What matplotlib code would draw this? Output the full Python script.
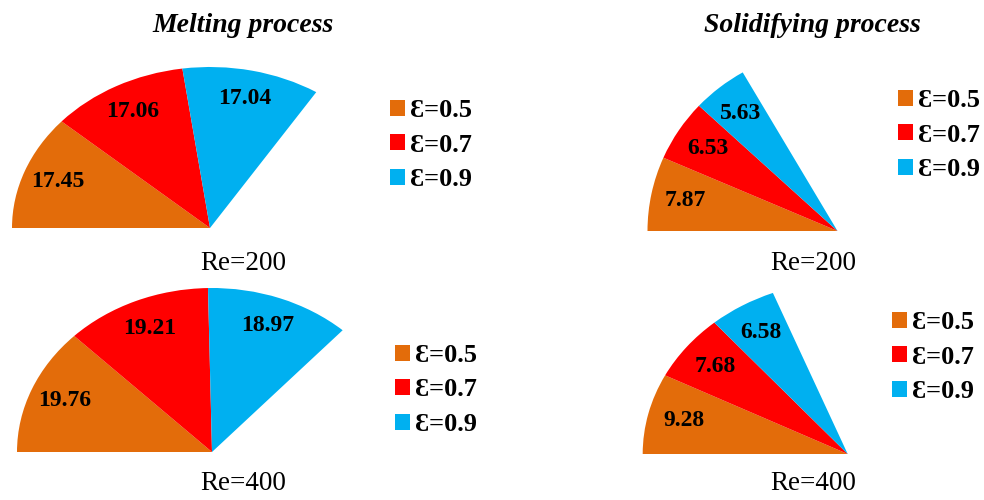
import matplotlib.pyplot as plt

# values shown in each half-pie (a hidden slice of 100 fills the rest of the circle)
legend_labels = ['Ɛ=0.5', 'Ɛ=0.7', 'Ɛ=0.9']
melting_re200 = [17.45, 17.06, 17.04]
melting_re400 = [19.76, 19.21, 18.97]
solid_re200 = [7.87, 6.53, 5.63]
solid_re400 = [9.28, 7.68, 6.58]
hidden_rest = 100

colors = ['#E36C0A', '#FF0000', '#00B0F0']
serif = ['Liberation Serif', 'DejaVu Serif']

W, H = 984, 500
fig = plt.figure(figsize=(W / 100, H / 100), dpi=100)


def px(x, y):
    # pixel (top-left origin) -> figure fraction
    return x / W, 1 - y / H


def half_pie(values, cx, cy, a, b, leg_x, leg_y):
    ax = fig.add_axes([(cx - a) / W, 1 - (cy + b) / H, 2 * a / W, 2 * b / H])
    data = list(values) + [hidden_rest]
    labels = [f'{v:.2f}' for v in values] + ['']
    wedges, texts = ax.pie(data, labels=labels, colors=colors + ['none'],
                           startangle=180, counterclock=False, radius=1,
                           labeldistance=0.82,
                           wedgeprops=dict(linewidth=0),
                           textprops=dict(family=serif, fontweight='bold',
                                          fontsize=17, color='black'))
    for t in texts:
        t.set_ha('center')
        t.set_va('center')
    for w in wedges:
        w.set_clip_on(False)
    wedges[-1].set_visible(False)
    ax.set_aspect('auto')
    ax.set_xlim(-1, 1)
    ax.set_ylim(-1, 1)
    ax.axis('off')
    ax.legend(wedges[:3], legend_labels, loc='center left',
              bbox_to_anchor=px(leg_x, leg_y + 3), bbox_transform=fig.transFigure,
              frameon=False, borderpad=0, borderaxespad=0,
              handlelength=0.55, handleheight=0.55,
              handletextpad=0.2, labelspacing=0.44,
              prop=dict(family=serif, weight='bold', size=19))
    return ax


half_pie(melting_re200, 210, 228, 198, 161, 390, 142)
half_pie(melting_re400, 212, 452, 195, 164, 395, 387)
half_pie(solid_re200, 837.5, 231, 190, 183, 898, 132)
half_pie(solid_re400, 847.7, 454, 205, 173, 892, 354)

title_kw = dict(family=serif, fontweight='bold', fontstyle='italic', fontsize=20,
                ha='center', va='center')
fig.text(*px(243, 25), 'Melting process', **title_kw)
fig.text(*px(812, 25), 'Solidifying process', **title_kw)

re_kw = dict(family=serif, fontsize=19.5, ha='center', va='center')
fig.text(*px(243, 264), 'Re=200', **re_kw)
fig.text(*px(243, 484), 'Re=400', **re_kw)
fig.text(*px(813, 263), 'Re=200', **re_kw)
fig.text(*px(813, 484), 'Re=400', **re_kw)

fig.savefig('out.png', dpi=100, facecolor='white')
